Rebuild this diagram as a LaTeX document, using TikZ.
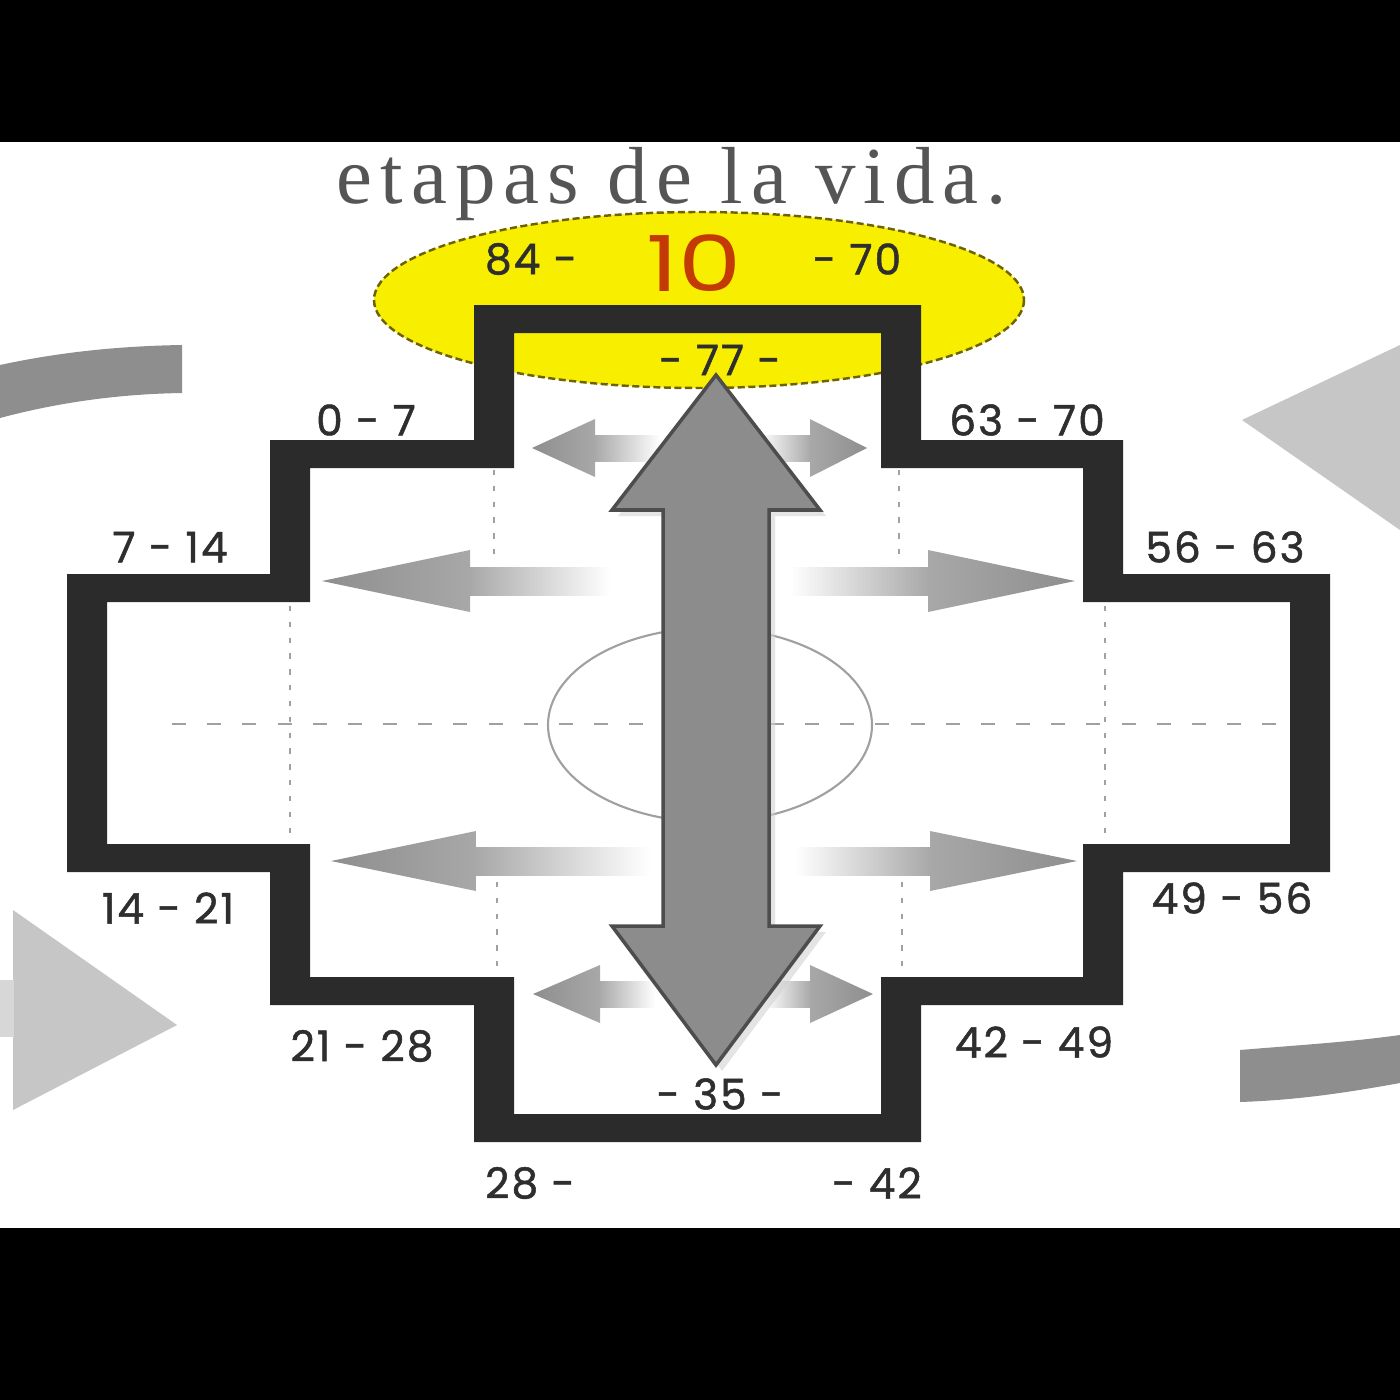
\documentclass[tikz,border=0pt]{standalone}
\usepackage{fontspec}
\setmainfont{Liberation Serif}
\newfontfamily\titlefont[LetterSpace=10]{Liberation Serif}
\newfontfamily\numfont[LetterSpace=5, FakeBold=1.2]{Poppins}
\newfontfamily\bignumfont{Poppins}
\definecolor{crossblack}{HTML}{2B2B2B}
\definecolor{arrowgray}{HTML}{8C8C8C}
\definecolor{arrowedge}{HTML}{4D4D4D}
\definecolor{arrowdark}{HTML}{8E8E8E}
\definecolor{arrowsoft}{HTML}{A8A8A8}
\definecolor{lightdeco}{HTML}{C6C6C6}
\definecolor{darkdeco}{HTML}{8E8E8E}
\definecolor{ovalyellow}{HTML}{F8EE00}
\definecolor{ovaledge}{HTML}{6E6300}
\definecolor{tenred}{HTML}{C43A06}
\definecolor{txtgray}{HTML}{2E2E2E}
\definecolor{titlegray}{HTML}{555555}
\definecolor{guidegray}{HTML}{A0A0A0}
\tikzset{
  lbl/.style={font=\numfont\fontsize{12}{14}\selectfont, text=txtgray, inner sep=0pt},
  guidedash/.style={guidegray, line width=0.6pt, dash pattern=on 4pt off 6pt},
  guidedot/.style={guidegray, line width=0.8pt, dash pattern=on 1.5pt off 3pt},
  arrowhead/.style={left color=arrowdark, right color=arrowsoft},
}
\begin{document}
\begin{tikzpicture}[x=0.01cm,y=-0.01cm]
\useasboundingbox (0,0) rectangle (1400,1400);
\fill[white] (0,0) rectangle (1400,1400);
% black bars
\fill[black] (0,0) rectangle (1400,142);
\fill[black] (0,1228) rectangle (1400,1400);

% decorative background shapes
\fill[darkdeco] (0,365) .. controls (60,352) and (120,346) .. (182,345) -- (182,393) .. controls (120,394) and (60,402) .. (0,418) -- cycle;
\fill[darkdeco] (1240,1050) .. controls (1300,1045) and (1350,1042) .. (1400,1035) -- (1400,1083) .. controls (1350,1092) and (1300,1100) .. (1240,1102) -- cycle;
\fill[lightdeco] (1242,420) -- (1400,345) -- (1400,530) -- cycle;
\fill[lightdeco] (177,1025) -- (13,910) -- (13,1110) -- cycle;
\fill[lightdeco!70!white] (0,980) rectangle (14,1037);

% yellow oval
\fill[ovalyellow] (699,300) ellipse [x radius=325, y radius=88];
\draw[ovaledge, line width=0.7pt, dash pattern=on 2pt off 1pt] (699,300) ellipse [x radius=325, y radius=88];

% guide lines
\draw[guidedash] (172,724) -- (1282,724);
\draw[guidedot] (290,606) -- (290,842);
\draw[guidedot] (1105,606) -- (1105,842);
\draw[guidedot] (494,470) -- (494,560);
\draw[guidedot] (899,470) -- (899,560);
\draw[guidedot] (497,882) -- (497,976);
\draw[guidedot] (902,882) -- (902,976);
\draw[guidegray, line width=0.6pt] (710,725) ellipse [x radius=162, y radius=97];

% small horizontal arrows (left)
\shade[left color=arrowsoft, right color=white] (594,435) rectangle (660,461);
\shade[arrowhead] (532,448) -- (595,419) -- (595,477) -- cycle;
\shade[left color=arrowsoft, right color=white] (469,567) rectangle (610,595);
\shade[arrowhead] (322,581) -- (470,550) -- (470,612) -- cycle;
\shade[left color=arrowsoft, right color=white] (475,847) rectangle (650,875);
\shade[arrowhead] (331,861) -- (476,831) -- (476,891) -- cycle;
\shade[left color=arrowsoft, right color=white] (599,981) rectangle (655,1007);
\shade[arrowhead] (533,994) -- (600,965) -- (600,1023) -- cycle;
% small horizontal arrows (right)
\shade[left color=white, right color=arrowsoft] (760,435) rectangle (811,461);
\shade[left color=arrowsoft, right color=arrowdark] (867,448) -- (810,419) -- (810,477) -- cycle;
\shade[left color=white, right color=arrowsoft] (790,567) rectangle (929,595);
\shade[left color=arrowsoft, right color=arrowdark] (1075,581) -- (928,550) -- (928,612) -- cycle;
\shade[left color=white, right color=arrowsoft] (795,847) rectangle (931,875);
\shade[left color=arrowsoft, right color=arrowdark] (1077,861) -- (930,831) -- (930,891) -- cycle;
\shade[left color=white, right color=arrowsoft] (765,981) rectangle (811,1007);
\shade[left color=arrowsoft, right color=arrowdark] (873,994) -- (810,965) -- (810,1023) -- cycle;

% chakana cross outline
\fill[crossblack, even odd rule]
  (474,305) -- (921,305) -- (921,440) -- (1123,440) -- (1123,574) -- (1330,574) -- (1330,872) -- (1123,872) -- (1123,1005) -- (921,1005) -- (921,1142) -- (474,1142) -- (474,1005) -- (270,1005) -- (270,872) -- (67,872) -- (67,574) -- (270,574) -- (270,440) -- (474,440) -- cycle
  (514,333) -- (881,333) -- (881,468) -- (1083,468) -- (1083,602) -- (1290,602) -- (1290,844) -- (1083,844) -- (1083,977) -- (881,977) -- (881,1114) -- (514,1114) -- (514,977) -- (310,977) -- (310,844) -- (107,844) -- (107,602) -- (310,602) -- (310,468) -- (514,468) -- cycle;

% big vertical double arrow
\fill[gray!35, opacity=0.6] (722,381) -- (826,516) -- (775,516) -- (775,932) -- (826,932) -- (722,1071) -- (618,932) -- (669,932) -- (669,516) -- (618,516) -- cycle;
\filldraw[fill=arrowgray, draw=arrowedge, line width=1pt, line join=miter]
  (716,375) -- (820,510) -- (769,510) -- (769,926) -- (820,926) -- (716,1065) -- (612,926) -- (663,926) -- (663,510) -- (612,510) -- cycle;

% title
\node[font=\titlefont\fontsize{23}{27}\selectfont, text=titlegray, anchor=base, inner sep=0pt] (title) at (672,203) {etapas de la vida.};

% labels
\node[lbl] (l84) at (531,259) {84 -};
\node[font=\bignumfont\fontsize{22}{26}\selectfont, text=tenred, inner sep=0pt] (ten) at (694,263) {\scalebox{1.3}[1]{10}};
\node[lbl] (l70top) at (857,259) {- 70};
\node[lbl] (l77) at (720,360) {- 77 -};
\node[lbl] (l0) at (366,420) {0 - 7};
\node[lbl] (l63) at (1027,420) {63 - 70};
\node[lbl] (l7) at (170,547) {7 - 14};
\node[lbl] (l56) at (1225,547) {56 - 63};
\node[lbl] (l14) at (168,908) {14 - 21};
\node[lbl] (l49) at (1232,898) {49 - 56};
\node[lbl] (l21) at (362,1046) {21 - 28};
\node[lbl] (l42) at (1034,1042) {42 - 49};
\node[lbl] (l35) at (720,1094) {- 35 -};
\node[lbl] (l28) at (530,1183) {28 -};
\node[lbl] (l42b) at (877,1183) {- 42};
\end{tikzpicture}
\end{document}
